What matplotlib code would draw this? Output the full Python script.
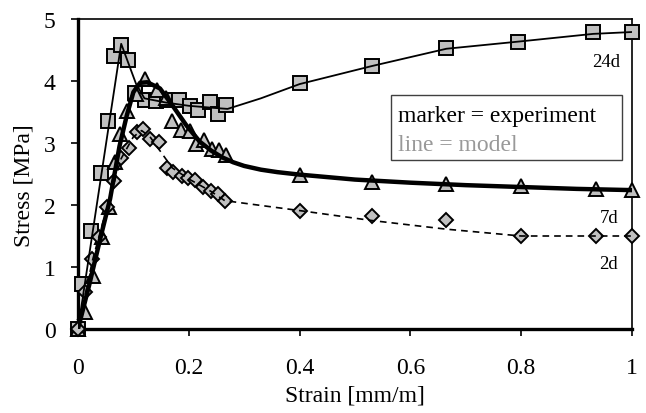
import matplotlib
matplotlib.use("Agg")
import matplotlib.pyplot as plt
from matplotlib.patches import Rectangle

plt.rcParams['font.family'] = ['Liberation Serif', 'DejaVu Serif']

# 24d experiment (squares)
x24_exp = [0, 0.008, 0.024, 0.041, 0.055, 0.065, 0.077, 0.091, 0.103, 0.121, 0.14, 0.16,
           0.182, 0.202, 0.216, 0.238, 0.252, 0.268, 0.40, 0.53, 0.665, 0.795, 0.93, 1.0]
y24_exp = [0, 0.73, 1.58, 2.51, 3.35, 4.41, 4.58, 4.34, 3.80, 3.70, 3.67, 3.70,
           3.69, 3.60, 3.53, 3.66, 3.47, 3.61, 3.97, 4.24, 4.53, 4.63, 4.79, 4.79]
# 24d model
x24_mod = [0, 0.078, 0.105, 0.12, 0.16, 0.2, 0.24, 0.27, 0.33, 0.40, 0.53, 0.665, 0.80, 0.93, 1.0]
y24_mod = [0, 4.6, 3.95, 3.72, 3.65, 3.6, 3.57, 3.55, 3.72, 3.95, 4.24, 4.52, 4.64, 4.76, 4.79]

# 7d experiment (triangles)
x7_exp = [0, 0.013, 0.028, 0.044, 0.056, 0.066, 0.075, 0.088, 0.104, 0.121, 0.142, 0.158, 0.17,
          0.186, 0.202, 0.213, 0.228, 0.242, 0.254, 0.268, 0.40, 0.53, 0.665, 0.80, 0.935, 1.0]
y7_exp = [0, 0.27, 0.86, 1.48, 1.97, 2.69, 3.15, 3.52, 3.79, 4.03, 3.85, 3.72, 3.36,
          3.21, 3.2, 2.98, 3.05, 2.9, 2.88, 2.8, 2.49, 2.37, 2.34, 2.31, 2.26, 2.24]
# 7d model
x7_mod = [0, 0.02, 0.04, 0.058, 0.075, 0.088, 0.1, 0.112, 0.125, 0.148, 0.171, 0.196, 0.22,
          0.24, 0.26, 0.28, 0.30, 0.33, 0.36, 0.40, 0.45, 0.5, 0.6, 0.7, 0.8, 0.9, 1.0]
y7_mod = [0, 0.7, 1.45, 2.1, 2.95, 3.44, 3.82, 3.97, 3.98, 3.88, 3.6, 3.28, 3.02,
          2.88, 2.77, 2.69, 2.63, 2.57, 2.53, 2.49, 2.45, 2.41, 2.36, 2.32, 2.29, 2.26, 2.24]

# 2d experiment (diamonds)
x2_exp = [0, 0.013, 0.026, 0.038, 0.052, 0.065, 0.078, 0.093, 0.106, 0.118, 0.13, 0.146, 0.16,
          0.172, 0.187, 0.199, 0.211, 0.226, 0.24, 0.253, 0.265, 0.40, 0.53, 0.665, 0.80, 0.935, 1.0]
y2_exp = [0, 0.6, 1.13, 1.48, 1.96, 2.38, 2.75, 2.92, 3.17, 3.22, 3.07, 3.01, 2.59,
          2.53, 2.46, 2.44, 2.41, 2.29, 2.23, 2.18, 2.07, 1.91, 1.83, 1.76, 1.50, 1.50, 1.50]
# 2d model
x2_mod = [0, 0.026, 0.052, 0.078, 0.1, 0.115, 0.13, 0.15, 0.17, 0.2, 0.24, 0.265, 0.40,
          0.53, 0.665, 0.80, 1.0]
y2_mod = [0, 1.1, 1.95, 2.75, 3.1, 3.2, 3.1, 2.85, 2.6, 2.42, 2.22, 2.07, 1.91,
          1.75, 1.61, 1.5, 1.5]

curve_labels = ["24d", "7d", "2d"]
x_ticks = [0, 0.2, 0.4, 0.6, 0.8, 1]
x_ticklabels = ["0", "0.2", "0.4", "0.6", "0.8", "1"]
y_ticks = [0, 1, 2, 3, 4, 5]

fig = plt.figure(figsize=(6.46, 4.14), dpi=100)
ax = fig.add_axes([0.1207, 0.2029, 0.8576, 0.7488])

fs = 17
mfc = '#c0c0c0'
ax.plot(x24_exp, y24_exp, ls='none', marker='s', ms=9.5, mfc=mfc, mec='black', mew=1.4, clip_on=False, zorder=3)
ax.plot(x7_exp, y7_exp, ls='none', marker='^', ms=10, mfc=mfc, mec='black', mew=1.4, clip_on=False, zorder=3)
ax.plot(x2_exp, y2_exp, ls='none', marker='D', ms=7.5, mfc=mfc, mec='black', mew=1.4, clip_on=False, zorder=3)

ax.plot(x24_mod, y24_mod, color='black', lw=1.3, zorder=4)
ax.plot(x7_mod, y7_mod, color='black', lw=3.2, zorder=4, solid_joinstyle='round')
ax.plot(x2_mod, y2_mod, color='black', lw=1.2, ls=(0, (4, 3)), zorder=4)

ax.set_xlim(0, 1)
ax.set_ylim(0, 5)
ax.set_xticks(x_ticks)
ax.set_xticklabels(x_ticklabels)
ax.set_yticks(y_ticks)
ax.tick_params(direction='out', length=5, width=1.2, labelsize=fs)
ax.tick_params(axis='x', pad=15.5)
ax.tick_params(axis='y', pad=11)

for s in ['left', 'bottom']:
    ax.spines[s].set_linewidth(2.4)
for s in ['top', 'right']:
    ax.spines[s].set_linewidth(1.2)

ax.set_xlabel("Strain [mm/m]", fontsize=fs)
ax.set_ylabel("Stress [MPa]", fontsize=fs)
ax.xaxis.set_label_coords(0.5, -0.18)
ax.yaxis.set_label_coords(-0.079, 0.465)

# curve labels
cfs = 13.5
ax.text(0.978, 4.24, curve_labels[0], fontsize=cfs, ha='right', va='baseline')
ax.text(0.975, 1.73, curve_labels[1], fontsize=cfs, ha='right', va='baseline')
ax.text(0.975, 0.99, curve_labels[2], fontsize=cfs, ha='right', va='baseline')

# legend-like box
lfs = 17
ax.text(0.578, 3.355, "marker = experiment", fontsize=lfs, color='black', ha='left', va='baseline', zorder=6)
ax.text(0.578, 2.887, "line = model", fontsize=lfs, color='#999999', ha='left', va='baseline', zorder=6)
ax.add_patch(Rectangle((0.565, 2.726), 0.417, 1.048, fill=True, facecolor='white',
                       edgecolor='#404040', lw=1.0, zorder=5))

fig.savefig("out.png", dpi=100)
